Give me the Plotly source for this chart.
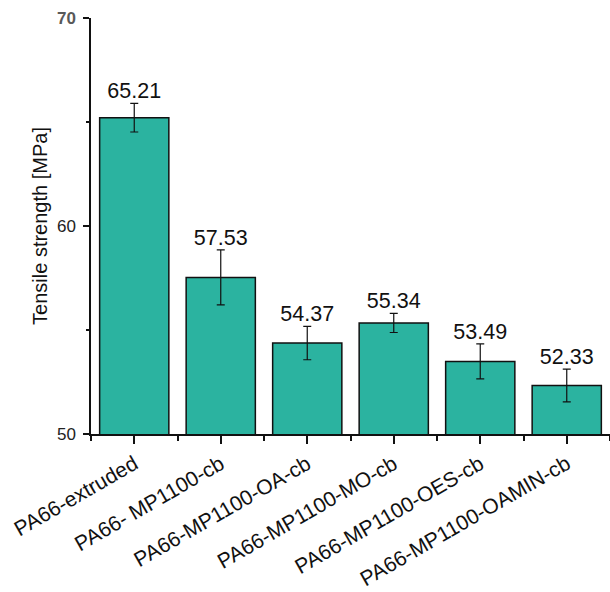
import plotly.graph_objects as go

# Tensile strength of PA66 samples (mean ± standard deviation)
samples = [
    "PA66-extruded",
    "PA66- MP1100-cb",
    "PA66-MP1100-OA-cb",
    "PA66-MP1100-MO-cb",
    "PA66-MP1100-OES-cb",
    "PA66-MP1100-OAMIN-cb",
]
strength = [65.21, 57.53, 54.37, 55.34, 53.49, 52.33]
strength_sd = [0.69, 1.32, 0.80, 0.46, 0.84, 0.79]

y_tick_values = [50, 60, 70]
y_tick_labels = ["50", "60", "<b><span style='color:#595959'>70</span></b>"]
y_minor_values = [55, 65]

positions = list(range(len(samples)))
boundaries = [p - 0.5 for p in positions] + [positions[-1] + 0.5]

FONT = "Liberation Sans, Arial, sans-serif"
BAR_COLOR = "#2bb3a0"

fig = go.Figure()

fig.add_trace(go.Bar(
    x=positions,
    y=strength,
    width=0.8,
    marker=dict(color=BAR_COLOR, line=dict(color="#111111", width=1.5)),
    error_y=dict(type="data", array=strength_sd, visible=True,
                 color="#111111", thickness=1.2, width=4),
    showlegend=False,
    hoverinfo="skip",
))

# value labels sitting above each error bar
fig.add_trace(go.Scatter(
    x=positions,
    y=[v + e for v, e in zip(strength, strength_sd)],
    mode="text",
    text=[f"{v:.2f}" for v in strength],
    textposition="top center",
    textfont=dict(family=FONT, size=21.5, color="#111111"),
    showlegend=False,
    hoverinfo="skip",
    cliponaxis=False,
))

fig.update_layout(
    width=610,
    height=592,
    margin=dict(l=91, r=0, t=18, b=158),
    paper_bgcolor="white",
    plot_bgcolor="white",
    font=dict(family=FONT, color="#111111"),
    bargap=0.2,
)

fig.update_xaxes(
    range=[-0.5, len(samples) - 0.5],
    tickmode="array",
    tickvals=positions,
    ticktext=samples,
    tickangle=-30,
    tickfont=dict(family=FONT, size=21, color="#111111"),
    ticks="outside",
    ticklen=8,
    tickwidth=1.5,
    tickcolor="#111111",
    minor=dict(tickmode="array", tickvals=boundaries, ticks="outside",
               ticklen=5, tickwidth=1.5, tickcolor="#111111"),
    showline=True,
    linecolor="#111111",
    linewidth=1.5,
    showgrid=False,
    zeroline=False,
)

fig.update_yaxes(
    range=[50, 70],
    tickmode="array",
    tickvals=y_tick_values,
    ticktext=y_tick_labels,
    tickfont=dict(family=FONT, size=17, color="#222222"),
    ticklabelstandoff=4,
    ticks="outside",
    ticklen=6,
    tickwidth=1.5,
    tickcolor="#111111",
    minor=dict(tickmode="array", tickvals=y_minor_values, ticks="outside",
               ticklen=3, tickwidth=1.5, tickcolor="#111111"),
    showline=True,
    linecolor="#111111",
    linewidth=1.5,
    showgrid=False,
    zeroline=False,
    title=dict(text="Tensile strength [MPa]",
               font=dict(family=FONT, size=20, color="#111111"),
               standoff=4),
)

fig.write_html("out.html")
